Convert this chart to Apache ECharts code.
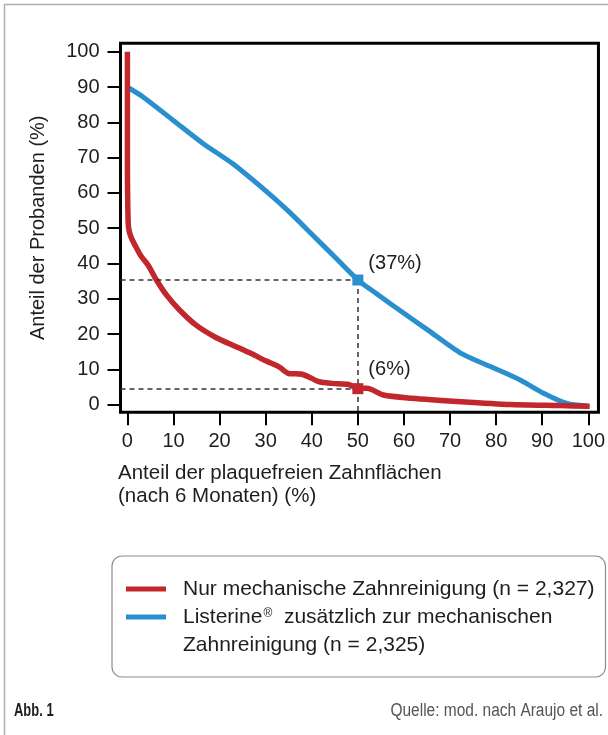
<!DOCTYPE html>
<html>
<head>
<meta charset="utf-8">
<title>Anteil der plaquefreien Zahnflächen</title>
<script src="https://cdn.jsdelivr.net/npm/echarts@6/dist/echarts.min.js"></script>
<style>
  html, body { margin: 0; padding: 0; background: #fff; }
  #chart { width: 608px; height: 735px; }
</style>
</head>
<body>
<div id="chart"></div>
<script>
// Achsenbeschriftung
const xTicks = [0, 10, 20, 30, 40, 50, 60, 70, 80, 90, 100];
const yTicks = [0, 10, 20, 30, 40, 50, 60, 70, 80, 90, 100];

const seriesNames = [
  'Nur mechanische Zahnreinigung (n = 2,327)',
  'Listerine® zusätzlich zur mechanischen Zahnreinigung (n = 2,325)'
];

// Nur mechanische Zahnreinigung (rot), x = plaquefreie Flächen %, y = Probanden %
const redX = [0, 0, 0.15, 0.4, 1.0, 1.8, 2.9, 4.5, 6.3, 8.5, 11.3, 14.9, 19.2, 23.6, 27.1, 30.0, 32.9, 35.0, 37.9, 41.5, 44.4, 48.0, 50.0, 52.0, 55.5, 61.6, 72.4, 83.1, 93.9, 100.3];
const redY = [100, 70, 52, 49, 46.8, 44.8, 42.2, 39.5, 35.3, 31.0, 26.8, 22.5, 19.0, 16.4, 14.3, 12.4, 10.7, 8.8, 8.6, 6.5, 6.0, 5.7, 4.6, 4.6, 2.7, 1.8, 0.8, 0.0, -0.3, -0.5];

// Listerine + mechanische Zahnreinigung (blau)
const blueX = [0.2, 3.4, 9.9, 16.4, 22.8, 30.7, 35.1, 40.0, 45.0, 50.0, 54.0, 58.0, 65.2, 72.4, 79.6, 85.3, 90.3, 95.4, 99.7];
const blueY = [89.8, 87.2, 80.6, 74.0, 68.3, 59.8, 54.6, 48.3, 41.8, 35.3, 31.5, 27.7, 21.1, 14.5, 10.3, 6.9, 3.2, 0.3, -0.4];

// Markierung bei 50 % plaquefreier Flächen
const markX = 50;
const blueMarkY = 35.3;
const redMarkY = 4.5;
const blueMarkLabel = '(37%)';
const redMarkLabel = '(6%)';

const FONT = '"Liberation Sans", Arial, Helvetica, sans-serif';
const RED = '#c1272d';
const BLUE = '#2a8fcf';
const TXT = '#1e1e1e';

// Achsenbereich etwas größer als 0..100 (Rahmen)
const xMin = -1.5, xMax = 102.2;
const yMin = -2.2, yMax = 102.4;

function zip(xs, ys) {
  return xs.map(function (x, i) { return [x, ys[i]]; });
}

const dashStyle = { color: '#333', width: 1.5, type: [5, 4] };

const chart = echarts.init(document.getElementById('chart'));

const option = {
  animation: false,
  textStyle: { fontFamily: FONT },
  graphic: [
    {
      type: 'rect',
      silent: true,
      shape: { x: 4.5, y: 4.5, width: 700, height: 800 },
      style: { fill: 'none', stroke: '#b0b0b0', lineWidth: 1.5 }
    },
    // Fußzeile, schmal gestaucht wie im Original
    {
      type: 'text', silent: true,
      x: 14, y: 711, scaleX: 0.72,
      style: { text: 'Abb. 1', font: 'bold 18px "Liberation Sans"', fill: TXT, align: 'left', verticalAlign: 'middle' }
    },
    {
      type: 'text', silent: true,
      x: 603, y: 711, scaleX: 0.86,
      style: { text: 'Quelle: mod. nach Araujo et al.', font: '18px "Liberation Sans"', fill: '#555', align: 'right', verticalAlign: 'middle' }
    }
  ],
  title: {
    text: 'Anteil der plaquefreien Zahnflächen\n(nach 6 Monaten) (%)',
    left: 118, top: 462, padding: 0,
    textStyle: { fontFamily: FONT, fontSize: 20.5, lineHeight: 23, fontWeight: 'normal', color: TXT }
  },
  grid: {
    left: 120.5, right: 6.3, top: 43.3, bottom: 322.7,
    show: true, borderColor: '#000', borderWidth: 3
  },
  xAxis: {
    type: 'value', min: xMin, max: xMax,
    axisLine: { show: false, onZero: false },
    splitLine: { show: false },
    axisTick: { show: true, length: 13, customValues: xTicks, lineStyle: { color: '#000', width: 2 } },
    axisLabel: { customValues: xTicks, margin: 19, fontSize: 20, color: TXT, fontFamily: FONT }
  },
  yAxis: {
    type: 'value', min: yMin, max: yMax,
    name: 'Anteil der Probanden (%)',
    nameLocation: 'middle', nameGap: 72,
    nameTextStyle: { fontSize: 20, color: TXT, fontFamily: FONT },
    axisLine: { show: false, onZero: false },
    splitLine: { show: false },
    axisTick: { show: true, length: 13, customValues: yTicks, lineStyle: { color: '#000', width: 2 } },
    axisLabel: { customValues: yTicks, margin: 21, fontSize: 20, color: TXT, fontFamily: FONT }
  },
  legend: {
    orient: 'vertical',
    left: 112, top: 556,
    padding: [19, 11, 18, 14],
    itemGap: -28,
    itemWidth: 40, itemHeight: 5,
    icon: 'rect',
    selectedMode: false,
    borderColor: '#8c8c8c', borderWidth: 1.2, borderRadius: 10,
    textStyle: {
      fontFamily: FONT, fontSize: 21, lineHeight: 28, color: TXT,
      padding: [0, 0, 0, 12],
      rich: {
        t: { fontFamily: FONT, fontSize: 21, lineHeight: 28, color: TXT },
        sup: { fontFamily: FONT, fontSize: 12, lineHeight: 28, color: TXT, verticalAlign: 'top', padding: [5, 0, 0, 1] }
      }
    },
    data: [
      { name: seriesNames[0] },
      // Zweizeiliger Eintrag: Polsterung oben, damit die Linie auf Höhe der ersten Zeile sitzt
      { name: seriesNames[1], textStyle: { padding: [28, 0, 0, 12] } }
    ],
    formatter: function (name) {
      if (name === seriesNames[1]) {
        return '{t|Listerine}{sup|®}{t|  zusätzlich zur mechanischen}\n{t|Zahnreinigung (n = 2,325)}';
      }
      return '{t|' + name + '}';
    }
  },
  series: [
    {
      name: seriesNames[0],
      type: 'line',
      data: zip(redX, redY),
      smooth: 0.25,
      showSymbol: false,
      z: 3,
      itemStyle: { color: RED },
      lineStyle: { color: RED, width: 5.5 },
      markLine: {
        silent: true, symbol: 'none',
        label: { show: false },
        lineStyle: dashStyle,
        data: [[{ coord: [xMin, redMarkY] }, { coord: [markX, redMarkY] }]]
      },
      markPoint: {
        silent: true, symbol: 'rect', symbolSize: 11,
        itemStyle: { color: RED },
        label: {
          show: true, position: 'right', distance: 5, offset: [0, -19],
          formatter: redMarkLabel, fontSize: 20, color: TXT, fontFamily: FONT
        },
        data: [{ coord: [markX, redMarkY] }]
      }
    },
    {
      name: seriesNames[1],
      type: 'line',
      data: zip(blueX, blueY),
      smooth: 0.25,
      showSymbol: false,
      z: 2,
      itemStyle: { color: BLUE },
      lineStyle: { color: BLUE, width: 5 },
      markLine: {
        silent: true, symbol: 'none',
        label: { show: false },
        lineStyle: dashStyle,
        data: [
          [{ coord: [xMin, blueMarkY] }, { coord: [markX, blueMarkY] }],
          [{ coord: [markX, blueMarkY] }, { coord: [markX, yMin] }]
        ]
      },
      markPoint: {
        silent: true, symbol: 'rect', symbolSize: 11,
        itemStyle: { color: BLUE },
        label: {
          show: true, position: 'right', distance: 5, offset: [0, -17],
          formatter: blueMarkLabel, fontSize: 20, color: TXT, fontFamily: FONT
        },
        data: [{ coord: [markX, blueMarkY] }]
      }
    }
  ]
};

chart.setOption(option);
</script>
</body>
</html>
